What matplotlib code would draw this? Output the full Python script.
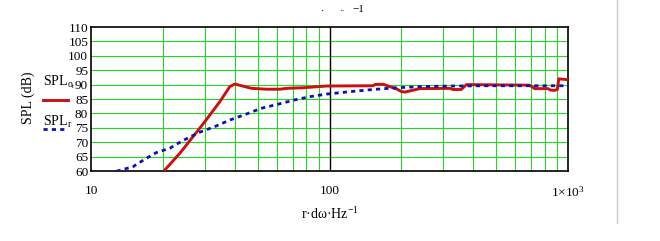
import numpy as np
import matplotlib
matplotlib.use('Agg')
import matplotlib.pyplot as plt
from matplotlib.lines import Line2D
from matplotlib.ticker import FixedLocator, NullFormatter

plt.rcParams['font.family'] = ['Liberation Serif', 'DejaVu Serif']
plt.rcParams['mathtext.fontset'] = 'custom'
plt.rcParams['mathtext.rm'] = 'Liberation Serif'
plt.rcParams['mathtext.it'] = 'Liberation Serif:italic'

# SPL_o (measured, red)
f_o = [19.0, 23.6, 30.0, 34.7, 38.2, 40.1, 47.1, 54.5, 61.9, 66.1, 77.3, 97.1,
       152, 156, 168, 191, 200, 207, 239, 319, 330, 357, 375, 690, 725, 824,
       845, 879, 902, 915, 1000]
spl_o = [57.5, 66.2, 77.1, 84.1, 89.3, 90.2, 88.7, 88.4, 88.4, 88.7, 88.9, 89.5,
         89.6, 90.1, 90.1, 88.5, 87.6, 87.4, 88.6, 88.7, 88.3, 88.3, 90.0, 89.8, 88.6, 88.6,
         88.1, 88.0, 88.3, 92.0, 91.7]

# SPL_r (reference, blue dotted)
f_r = [11.0, 12.9, 15.0, 16.6, 18.8, 21.4, 24.2, 28.4, 33.0, 38.2, 44.9, 51.9,
       60.9, 71.5, 82.7, 97.1, 120, 152, 191, 240, 320, 450, 650, 1000]
spl_r = [58.0, 60.0, 61.5, 63.8, 66.4, 67.9, 70.5, 73.4, 75.4, 77.7, 79.8, 81.8,
         83.2, 84.7, 85.8, 86.7, 87.5, 88.3, 88.9, 89.3, 89.5, 89.6, 89.6, 89.6]

yticks = list(range(60, 111, 5))
xmajor = [10, 100, 1000]
xmajor_labels = ['10', '100', '1×10$^{3}$']
xminor = [20, 30, 40, 50, 60, 70, 80, 90, 200, 300, 400, 500, 600, 700, 800, 900]

red = '#cc1010'
blue = '#1010b0'
dots = (0, (1.5, 1.5))

W, H = 660, 241
fig = plt.figure(figsize=(6.6, 2.41), dpi=100)
ax = fig.add_axes([91 / W, 1 - 171 / H, (568 - 91) / W, (171 - 27) / H])

ax.set_xscale('log')
ax.set_xlim(10, 1000)
ax.set_ylim(60, 110)

grid_col = '#22d822'
for y in yticks[1:-1]:
    ax.axhline(y, color=grid_col, lw=0.8, zorder=1)
for x in xminor:
    ax.axvline(x, color=grid_col, lw=0.8, zorder=1)
ax.axvline(100, color='black', lw=1.0, zorder=1)

ax.plot(f_o, spl_o, color=red, lw=2.1, zorder=3)
ax.plot(f_r, spl_r, color=blue, lw=2.0, ls=dots, zorder=3)

ax.xaxis.set_major_locator(FixedLocator(xmajor))
ax.set_xticklabels(xmajor_labels)
ax.xaxis.set_minor_locator(FixedLocator(xminor))
ax.xaxis.set_minor_formatter(NullFormatter())
ax.set_yticks(yticks)
ax.tick_params(axis='both', which='both', length=0, labelsize=9.5)
ax.tick_params(axis='x', pad=10)
ax.tick_params(axis='y', pad=2)
for s in ax.spines.values():
    s.set_linewidth(1.2)

ax.set_xlabel('r·dω·Hz$^{\\mathrm{-1}}$', fontsize=10, labelpad=5)

fig.text(28 / W, 1 - 98 / H, 'SPL (dB)', rotation=90, ha='center', va='center', fontsize=10)

# legend, Mathcad style: label above the line sample
fig.text(43 / W, 1 - 82 / H, 'SPL$_{\\mathrm{o}_{\\mathrm{r}}}$', ha='left', va='center', fontsize=10)
fig.add_artist(Line2D([43 / W, 68 / W], [1 - 100 / H, 1 - 100 / H], color=red, lw=2.1))
fig.text(43 / W, 1 - 122 / H, 'SPL$_{\\mathrm{r}}$', ha='left', va='center', fontsize=10)
fig.add_artist(Line2D([43 / W, 68 / W], [1 - 129 / H, 1 - 129 / H], color=blue, lw=2.0, ls=dots))

# clipped remnant at top
fig.text(323 / W, 1 - 11 / H, '·', ha='center', va='center', fontsize=7)
fig.text(342 / W, 1 - 11 / H, '··', ha='center', va='center', fontsize=6)
fig.text(358 / W, 1 - 9 / H, '−1', ha='center', va='center', fontsize=8)

# gray separator on the right
fig.add_artist(Line2D([617 / W, 617 / W], [1, 1 - 223 / H], color='#c8c8c8', lw=1.0))

fig.savefig('out.png', dpi=100)
